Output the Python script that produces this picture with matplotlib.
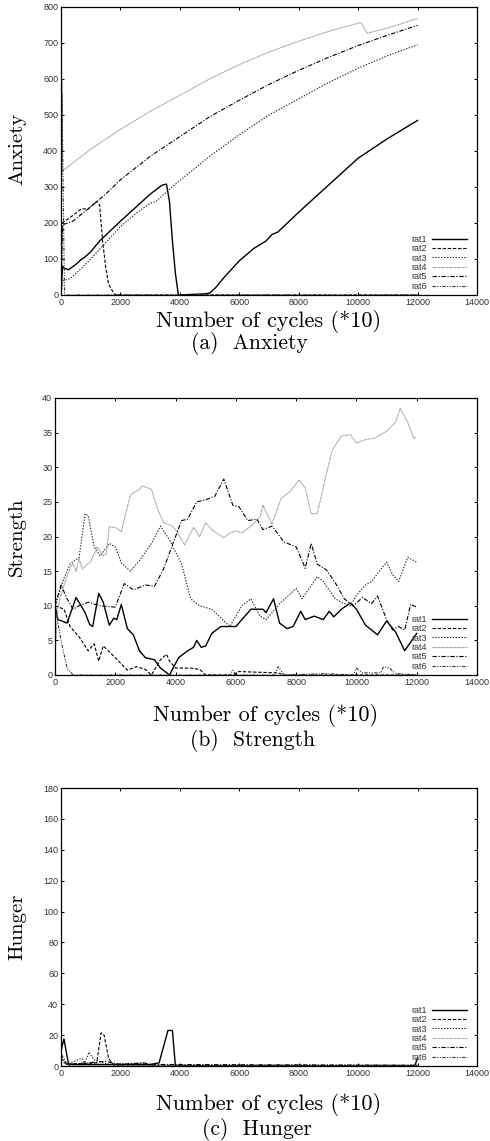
import matplotlib
matplotlib.use("Agg")
import matplotlib.pyplot as plt

# ---- data ----------------------------------------------------------------
names = ["rat1", "rat2", "rat3", "rat4", "rat5", "rat6"]

# (a) Anxiety
anx_x1 = [0, 50, 100, 250, 500, 700, 800, 1000, 1300, 2000, 2600, 3000, 3400, 3550, 3650, 3750, 3850, 3950,
          4800, 5000, 5200, 5500, 6000, 6500, 6700, 6900, 7100, 7300, 8000, 9000, 10000, 11000, 12000]
anx_y1 = [0, 80, 75, 70, 85, 100, 105, 120, 150, 205, 250, 280, 305, 308, 260, 150, 60, 0,
          3, 5, 20, 50, 95, 130, 140, 150, 168, 175, 230, 305, 380, 435, 485]
anx_x2 = [0, 40, 300, 700, 900, 1200, 1300, 1400, 1500, 1600, 1800, 2000, 12000]
anx_y2 = [0, 200, 215, 240, 238, 260, 250, 150, 80, 30, 2, 0, 0]
anx_x3 = [0, 60, 300, 700, 1000, 1500, 2000, 2500, 3000, 3200, 3600, 4000, 5000, 6000, 7000, 8000, 9000, 10000, 11000, 12000]
anx_y3 = [0, 40, 45, 75, 100, 145, 190, 225, 255, 260, 290, 318, 385, 445, 500, 545, 590, 630, 665, 695]
anx_x4 = [0, 30, 60, 1000, 2000, 3000, 4000, 5000, 6000, 7000, 8000, 9000, 10000, 10100, 10300, 11000, 12000]
anx_y4 = [0, 600, 345, 405, 460, 510, 555, 600, 640, 675, 705, 732, 755, 757, 727, 742, 768]
anx_x5 = [0, 50, 400, 700, 1000, 1500, 2000, 3000, 4000, 5000, 6000, 7000, 8000, 9000, 10000, 11000, 12000]
anx_y5 = [0, 195, 205, 225, 245, 280, 320, 385, 440, 495, 541, 585, 624, 660, 693, 722, 749]
anx_x6 = [0, 30, 120, 12000]
anx_y6 = [0, 560, 0, 0]

# (b) Strength
str_x1 = [0, 100, 400, 700, 1000, 1150, 1250, 1450, 1600, 1800, 1950, 2050, 2200, 2400, 2600, 2800, 3000, 3300,
          3500, 3800, 4100, 4400, 4600, 4700, 4850, 5000, 5200, 5500, 6000, 6500, 6900, 7000, 7250, 7450, 7700,
          7900, 8150, 8300, 8600, 8900, 9100, 9250, 9500, 9800, 10000, 10300, 10500, 10700, 11000, 11300, 11600, 12000]
str_y1 = [10, 8, 7.5, 11.2, 9, 7.3, 7, 11.8, 10.5, 7.2, 8.2, 8, 10.2, 6.7, 5.8, 3.5, 2.5, 2.2,
          1, 0, 2.5, 3.5, 4, 5, 4, 4.2, 6, 7, 7, 9.5, 9.5, 9, 11, 7.5, 6.7,
          7, 9.2, 8, 8.5, 8, 9.2, 8.4, 9.5, 10.4, 9.5, 7.2, 6.5, 5.8, 7.8, 6.2, 3.5, 6]
str_x2 = [0, 300, 500, 800, 1100, 1300, 1450, 1600, 2000, 2400, 2700, 3000, 3200, 3500, 3700, 3800, 4000, 4500,
          4800, 5000, 5900, 6100, 7400, 7600, 8000, 12000]
str_y2 = [10, 9.5, 7, 5.5, 3.5, 4.5, 2, 4.2, 2.5, 0.7, 1.2, 0.8, 0, 2.2, 3, 2, 1, 1,
          0.8, 0, 0, 0.5, 0.3, 0, 0, 0]
str_x3 = [0, 300, 500, 800, 1000, 1100, 1300, 1500, 1800, 2000, 2200, 2500, 2800, 3200, 3500, 3800, 4200, 4500,
          4800, 5200, 5800, 6200, 6500, 6800, 7000, 7500, 8000, 8200, 8700, 8900, 9300, 9500, 9800, 10000, 10300,
          10500, 10800, 11000, 11200, 11400, 11700, 12000]
str_y3 = [10, 14, 16, 17, 23.3, 23, 18.5, 17.2, 19, 18.5, 16.2, 15, 16.5, 19, 21.5, 19.5, 16, 11,
          10, 9.5, 7, 10, 11, 8.5, 8, 10.5, 12.5, 11, 14.2, 13.5, 11, 10.5, 10, 11.5, 13,
          13.5, 15.2, 16.3, 14.5, 13.5, 17, 16.3]
str_x4 = [0, 100, 300, 500, 600, 700, 800, 900, 1200, 1400, 1600, 1700, 1800, 2000, 2200, 2500, 2800, 2900, 3200,
          3400, 3600, 3900, 4000, 4300, 4600, 4800, 5000, 5200, 5600, 5800, 6000, 6200, 6500, 6800, 6900, 7200,
          7500, 7800, 8100, 8300, 8500, 8700, 9000, 9200, 9500, 9800, 10000, 10300, 10600, 11000, 11300, 11450,
          11700, 11900, 12000]
str_y4 = [3, 10, 13, 15.5, 16, 15, 16.8, 15.3, 16.5, 18.5, 17.2, 17.5, 21.4, 21.3, 20.7, 26, 26.8, 27.3, 26.8,
          24, 22, 21.5, 21, 18.8, 21.3, 20, 22, 21, 19.8, 20.5, 20.8, 20.5, 21.5, 22.8, 24.5, 21.8,
          25.5, 26.5, 28.2, 27, 23.3, 23.3, 29, 32.5, 34.5, 34.7, 33.5, 34, 34.2, 35.2, 36.5, 38.5,
          36.5, 34.2, 34.4]
str_x5 = [0, 200, 400, 600, 800, 1100, 1500, 2000, 2300, 2600, 3000, 3300, 3600, 4000, 4200, 4400, 4700, 5000,
          5300, 5600, 5900, 6100, 6400, 6700, 6900, 7200, 7600, 8000, 8200, 8300, 8500, 8700, 9000, 9300, 9600,
          9900, 10200, 10500, 10700, 11000, 11200, 11400, 11600, 11800, 12000]
str_y5 = [10, 13, 11, 9.5, 10, 10.5, 10, 9.8, 13.2, 12.3, 13, 12.8, 15.3, 20, 22.3, 22.5, 25, 25.3,
          25.8, 28.3, 24.5, 24.3, 22.3, 22.5, 21, 21.5, 19.2, 18.5, 16.5, 15.4, 19, 16, 15.2, 13.3, 11,
          10, 11.2, 10.3, 11.4, 8, 6.5, 7, 6.5, 10.2, 9.8]
str_x6 = [0, 200, 400, 600, 5800, 5900, 6000, 7300, 7400, 7600, 9000, 9900, 10000, 10200, 10800, 10900, 11100,
          11300, 12000]
str_y6 = [10, 5, 1, 0, 0, 0.7, 0, 0, 1.2, 0, 0.2, 0, 1, 0.3, 0.3, 1.2, 1, 0.2, 0]

# (c) Hunger
hun_x1 = [0, 100, 250, 400, 1000, 3000, 3300, 3600, 3750, 3850, 11900, 12000]
hun_y1 = [10, 17.5, 1.5, 1, 1, 1, 2, 23, 23, 0, 0, 5]
hun_x2 = [0, 200, 1200, 1350, 1450, 1600, 1800, 12000]
hun_y2 = [5, 1, 2, 21.5, 20, 5, 0, 0]
hun_x3 = [0, 200, 700, 800, 950, 1100, 1300, 1600, 2800, 3000, 12000]
hun_y3 = [3, 1, 5, 2, 9, 4, 3, 1, 2, 0.5, 0.5]
hun_x4 = [0, 12000]
hun_y4 = [0, 0]
hun_x5 = [0, 200, 1500, 2000, 2800, 3000, 12000]
hun_y5 = [8, 1, 3, 1, 2, 1, 0.5]
hun_x6 = [0, 300, 11900, 12000]
hun_y6 = [5, 0, 0, 5]

# ---- styles ---------------------------------------------------------------
styles = [
    dict(color="black", ls="-", lw=1.0),
    dict(color="black", ls=(0, (3.0, 1.6)), lw=0.8),
    dict(color="#222222", ls=(0, (1.2, 1.4)), lw=0.8),
    dict(color="#888888", ls=(0, (0.7, 0.5)), lw=0.8),
    dict(color="black", ls=(0, (4.0, 1.5, 1.0, 1.5)), lw=0.8),
    dict(color="#333333", ls=(0, (3.0, 1.3, 1.0, 1.3, 1.0, 1.3)), lw=0.8),
]

W, H = 490, 1141
fig = plt.figure(figsize=(W / 100, H / 100), dpi=100)

serif = "cmr10"

panels = [
    dict(box=(61, 7, 477, 295), ymax=800, ystep=100,
         xs=[anx_x1, anx_x2, anx_x3, anx_x4, anx_x5, anx_x6],
         ys=[anx_y1, anx_y2, anx_y3, anx_y4, anx_y5, anx_y6],
         ylabel="Anxiety", caption="(a)  Anxiety", yl=149, xl=327, cap=349, capx=249),
    dict(box=(55, 398, 477, 675), ymax=40, ystep=5,
         xs=[str_x1, str_x2, str_x3, str_x4, str_x5, str_x6],
         ys=[str_y1, str_y2, str_y3, str_y4, str_y5, str_y6],
         ylabel="Strength", caption="(b)  Strength", yl=537, xl=721, cap=746, capx=253),
    dict(box=(61, 788, 477, 1066), ymax=180, ystep=20,
         xs=[hun_x1, hun_x2, hun_x3, hun_x4, hun_x5, hun_x6],
         ys=[hun_y1, hun_y2, hun_y3, hun_y4, hun_y5, hun_y6],
         ylabel="Hunger", caption="(c)  Hunger", yl=927, xl=1110, cap=1135, capx=257),
]

for p in panels:
    l, t, r, b = p["box"]
    ax = fig.add_axes([l / W, 1 - b / H, (r - l) / W, (b - t) / H])
    for i in range(6):
        ax.plot(p["xs"][i], p["ys"][i], label=names[i], **styles[i])
    ax.set_xlim(0, 14000)
    ax.set_ylim(0, p["ymax"])
    ax.set_xticks(range(0, 14001, 2000))
    ax.set_yticks(range(0, p["ymax"] + 1, p["ystep"]))
    ax.tick_params(direction="in", length=2.5, width=0.7, top=True, right=True,
                   labelsize=6.5, labelcolor="#333333", pad=2)
    for s in ax.spines.values():
        s.set_linewidth(0.9)
    for lab in ax.get_xticklabels() + ax.get_yticklabels():
        lab.set_family("Liberation Sans")
    leg = ax.legend(loc="lower right", bbox_to_anchor=(0.985, 0.0), frameon=False,
                    markerfirst=False, fontsize=6.5, handlelength=3.8, handletextpad=0.6,
                    labelspacing=0.05, borderaxespad=0.25, borderpad=0.2)
    for txt in leg.get_texts():
        txt.set_family("Liberation Sans")
        txt.set_color("#333333")

    fig.text(17 / W, 1 - p["yl"] / H, p["ylabel"], rotation=90, ha="center", va="center",
             family=serif, fontsize=15)
    fig.text(0.5 * (l + r) / W, 1 - p["xl"] / H, "Number of cycles (*10)", ha="center", va="baseline",
             family=serif, fontsize=16)
    fig.text(p["capx"] / W, 1 - p["cap"] / H, p["caption"], ha="center", va="baseline",
             family=serif, fontsize=15.5)

fig.savefig("out.png", dpi=100)
